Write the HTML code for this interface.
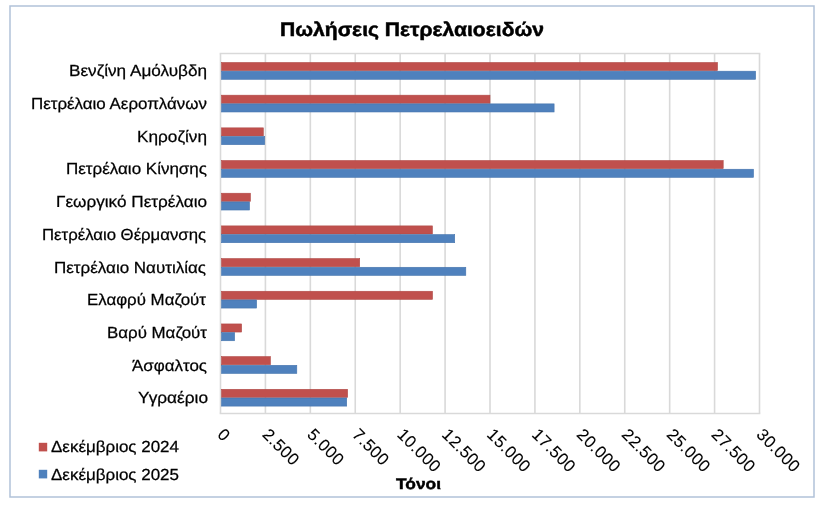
<!DOCTYPE html>
<html><head><meta charset="utf-8">
<style>
html,body{margin:0;padding:0;background:#fff;}
body{width:827px;height:507px;overflow:hidden;position:relative;}
svg{position:absolute;left:0;top:0;will-change:transform;}
text{font-family:"Liberation Sans",sans-serif;fill:#000;text-rendering:geometricPrecision;}
.lab{font-size:16px;stroke:#000;stroke-width:0.25px;}
.tick{font-size:16.8px;letter-spacing:0.4px;stroke:#000;stroke-width:0.1px;}
.title{font-size:19.5px;font-weight:bold;stroke:#000;stroke-width:0.5px;}
.leg{font-size:16px;stroke:#000;stroke-width:0.25px;}
.axt{font-size:15.3px;font-weight:bold;stroke:#000;stroke-width:0.45px;}
</style></head><body>
<svg width="827" height="507" viewBox="0 0 827 507">
<rect x="10" y="6" width="804" height="491" fill="#fff" stroke="#b1c2d9" stroke-width="1.5"/>
<text x="280" y="36" textLength="264" lengthAdjust="spacingAndGlyphs" class="title">Πωλήσεις Πετρελαιοειδών</text>
<line x1="220.50" y1="53.5" x2="220.50" y2="413.5" stroke="#d9d9d9" stroke-width="1.6"/>
<line x1="265.42" y1="53.5" x2="265.42" y2="413.5" stroke="#d9d9d9" stroke-width="1.6"/>
<line x1="310.33" y1="53.5" x2="310.33" y2="413.5" stroke="#d9d9d9" stroke-width="1.6"/>
<line x1="355.25" y1="53.5" x2="355.25" y2="413.5" stroke="#d9d9d9" stroke-width="1.6"/>
<line x1="400.17" y1="53.5" x2="400.17" y2="413.5" stroke="#d9d9d9" stroke-width="1.6"/>
<line x1="445.08" y1="53.5" x2="445.08" y2="413.5" stroke="#d9d9d9" stroke-width="1.6"/>
<line x1="490.00" y1="53.5" x2="490.00" y2="413.5" stroke="#d9d9d9" stroke-width="1.6"/>
<line x1="534.92" y1="53.5" x2="534.92" y2="413.5" stroke="#d9d9d9" stroke-width="1.6"/>
<line x1="579.83" y1="53.5" x2="579.83" y2="413.5" stroke="#d9d9d9" stroke-width="1.6"/>
<line x1="624.75" y1="53.5" x2="624.75" y2="413.5" stroke="#d9d9d9" stroke-width="1.6"/>
<line x1="669.67" y1="53.5" x2="669.67" y2="413.5" stroke="#d9d9d9" stroke-width="1.6"/>
<line x1="714.58" y1="53.5" x2="714.58" y2="413.5" stroke="#d9d9d9" stroke-width="1.6"/>
<line x1="759.50" y1="53.5" x2="759.50" y2="413.5" stroke="#d9d9d9" stroke-width="1.6"/>
<line x1="219.7" y1="53.5" x2="760.3" y2="53.5" stroke="#d9d9d9" stroke-width="1.6"/>
<line x1="219.7" y1="413.5" x2="760.3" y2="413.5" stroke="#d9d9d9" stroke-width="1.6"/>
<rect x="221.5" y="62.50" width="496.00" height="8.10" fill="#c0504d" stroke="#b04a47" stroke-width="0.6"/>
<rect x="221.5" y="71.20" width="534.10" height="8.10" fill="#4f81bd" stroke="#4574ad" stroke-width="0.6"/>
<rect x="221.5" y="95.18" width="268.50" height="8.10" fill="#c0504d" stroke="#b04a47" stroke-width="0.6"/>
<rect x="221.5" y="103.88" width="332.60" height="8.10" fill="#4f81bd" stroke="#4574ad" stroke-width="0.6"/>
<rect x="221.5" y="127.86" width="41.80" height="8.10" fill="#c0504d" stroke="#b04a47" stroke-width="0.6"/>
<rect x="221.5" y="136.56" width="43.20" height="8.10" fill="#4f81bd" stroke="#4574ad" stroke-width="0.6"/>
<rect x="221.5" y="160.54" width="501.70" height="8.10" fill="#c0504d" stroke="#b04a47" stroke-width="0.6"/>
<rect x="221.5" y="169.24" width="532.00" height="8.10" fill="#4f81bd" stroke="#4574ad" stroke-width="0.6"/>
<rect x="221.5" y="193.22" width="28.90" height="8.10" fill="#c0504d" stroke="#b04a47" stroke-width="0.6"/>
<rect x="221.5" y="201.92" width="28.00" height="8.10" fill="#4f81bd" stroke="#4574ad" stroke-width="0.6"/>
<rect x="221.5" y="225.90" width="210.90" height="8.10" fill="#c0504d" stroke="#b04a47" stroke-width="0.6"/>
<rect x="221.5" y="234.60" width="233.20" height="8.10" fill="#4f81bd" stroke="#4574ad" stroke-width="0.6"/>
<rect x="221.5" y="258.58" width="138.20" height="8.10" fill="#c0504d" stroke="#b04a47" stroke-width="0.6"/>
<rect x="221.5" y="267.28" width="244.30" height="8.10" fill="#4f81bd" stroke="#4574ad" stroke-width="0.6"/>
<rect x="221.5" y="291.26" width="211.00" height="8.10" fill="#c0504d" stroke="#b04a47" stroke-width="0.6"/>
<rect x="221.5" y="299.96" width="35.10" height="8.10" fill="#4f81bd" stroke="#4574ad" stroke-width="0.6"/>
<rect x="221.5" y="323.94" width="20.10" height="8.10" fill="#c0504d" stroke="#b04a47" stroke-width="0.6"/>
<rect x="221.5" y="332.64" width="13.10" height="8.10" fill="#4f81bd" stroke="#4574ad" stroke-width="0.6"/>
<rect x="221.5" y="356.62" width="48.90" height="8.10" fill="#c0504d" stroke="#b04a47" stroke-width="0.6"/>
<rect x="221.5" y="365.32" width="75.30" height="8.10" fill="#4f81bd" stroke="#4574ad" stroke-width="0.6"/>
<rect x="221.5" y="389.30" width="126.10" height="8.10" fill="#c0504d" stroke="#b04a47" stroke-width="0.6"/>
<rect x="221.5" y="398.00" width="125.20" height="8.10" fill="#4f81bd" stroke="#4574ad" stroke-width="0.6"/>
<text x="207" y="76.16" text-anchor="end" textLength="138" lengthAdjust="spacingAndGlyphs" class="lab">Βενζίνη Αμόλυβδη</text>
<text x="207" y="108.89" text-anchor="end" textLength="176" lengthAdjust="spacingAndGlyphs" class="lab">Πετρέλαιο Αεροπλάνων</text>
<text x="207" y="141.62" text-anchor="end" textLength="70" lengthAdjust="spacingAndGlyphs" class="lab">Κηροζίνη</text>
<text x="207" y="174.35" text-anchor="end" textLength="141" lengthAdjust="spacingAndGlyphs" class="lab">Πετρέλαιο Κίνησης</text>
<text x="207" y="207.07" text-anchor="end" textLength="151" lengthAdjust="spacingAndGlyphs" class="lab">Γεωργικό Πετρέλαιο</text>
<text x="206" y="239.80" text-anchor="end" textLength="164" lengthAdjust="spacingAndGlyphs" class="lab">Πετρέλαιο Θέρμανσης</text>
<text x="206" y="272.53" text-anchor="end" textLength="152" lengthAdjust="spacingAndGlyphs" class="lab">Πετρέλαιο Ναυτιλίας</text>
<text x="206" y="305.25" text-anchor="end" textLength="119" lengthAdjust="spacingAndGlyphs" class="lab">Ελαφρύ Μαζούτ</text>
<text x="207" y="337.98" text-anchor="end" textLength="100" lengthAdjust="spacingAndGlyphs" class="lab">Βαρύ Μαζούτ</text>
<text x="207" y="370.71" text-anchor="end" textLength="75" lengthAdjust="spacingAndGlyphs" class="lab">Άσφαλτος</text>
<text x="208" y="403.44" text-anchor="end" textLength="70" lengthAdjust="spacingAndGlyphs" class="lab">Υγραέριο</text>
<text x="216.50" y="435.5" transform="rotate(45 216.50 435.5)" class="tick">0</text>
<text x="261.42" y="435.5" transform="rotate(45 261.42 435.5)" class="tick">2.500</text>
<text x="306.33" y="435.5" transform="rotate(45 306.33 435.5)" class="tick">5.000</text>
<text x="351.25" y="435.5" transform="rotate(45 351.25 435.5)" class="tick">7.500</text>
<text x="396.17" y="435.5" transform="rotate(45 396.17 435.5)" class="tick">10.000</text>
<text x="441.08" y="435.5" transform="rotate(45 441.08 435.5)" class="tick">12.500</text>
<text x="486.00" y="435.5" transform="rotate(45 486.00 435.5)" class="tick">15.000</text>
<text x="530.92" y="435.5" transform="rotate(45 530.92 435.5)" class="tick">17.500</text>
<text x="575.83" y="435.5" transform="rotate(45 575.83 435.5)" class="tick">20.000</text>
<text x="620.75" y="435.5" transform="rotate(45 620.75 435.5)" class="tick">22.500</text>
<text x="665.67" y="435.5" transform="rotate(45 665.67 435.5)" class="tick">25.000</text>
<text x="710.58" y="435.5" transform="rotate(45 710.58 435.5)" class="tick">27.500</text>
<text x="755.50" y="435.5" transform="rotate(45 755.50 435.5)" class="tick">30.000</text>
<rect x="38.8" y="442.8" width="8.4" height="8.6" fill="#c0504d"/>
<rect x="38.8" y="469.8" width="8.4" height="8.6" fill="#4f81bd"/>
<text x="51" y="452.3" textLength="128" lengthAdjust="spacingAndGlyphs" class="leg">Δεκέμβριος 2024</text>
<text x="51" y="479.5" textLength="128" lengthAdjust="spacingAndGlyphs" class="leg">Δεκέμβριος 2025</text>
<text x="396" y="488.7" textLength="45" lengthAdjust="spacingAndGlyphs" class="axt">Τόνοι</text>
</svg>
</body></html>
